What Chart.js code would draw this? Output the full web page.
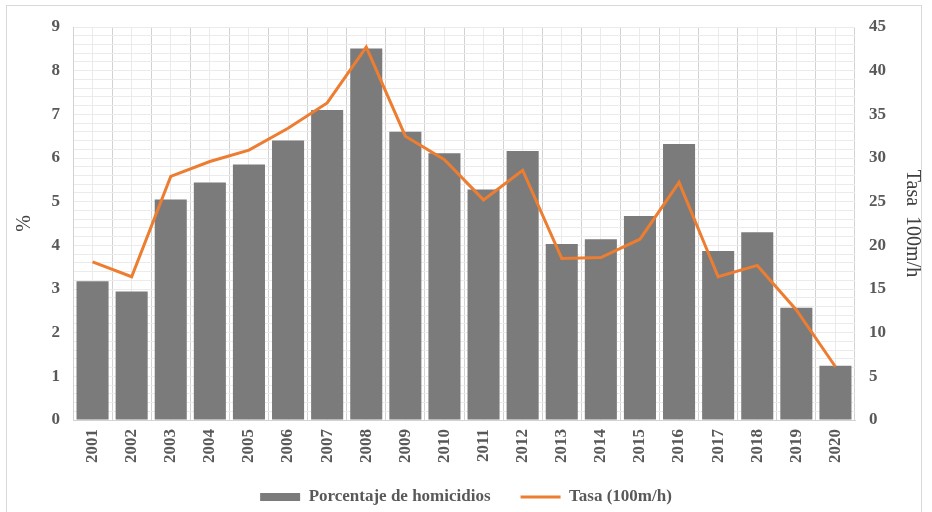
<!DOCTYPE html>
<html>
<head>
<meta charset="utf-8">
<script src="https://cdn.jsdelivr.net/npm/chart.js@4/dist/chart.umd.min.js"></script>
<style>
  html, body { margin: 0; padding: 0; background: #ffffff; }
  #wrap { position: relative; width: 932px; height: 512px; }
  #frame { position: absolute; left: 6px; top: 5px; width: 916px; height: 510px; border: 1px solid #d9d9d9; box-sizing: border-box; pointer-events: none; }
  canvas { position: absolute; left: 0; top: 0; }
</style>
</head>
<body>
<div id="wrap">
  <canvas id="c" width="932" height="512"></canvas>
  <div id="frame"></div>
</div>
<script>
const years = ["2001","2002","2003","2004","2005","2006","2007","2008","2009","2010",
               "2011","2012","2013","2014","2015","2016","2017","2018","2019","2020"];
const porcentaje = [3.18, 2.94, 5.05, 5.44, 5.85, 6.40, 7.10, 8.51, 6.60, 6.11,
                    5.28, 6.16, 4.03, 4.14, 4.67, 6.32, 3.87, 4.30, 2.57, 1.24];
const tasa = [18.1, 16.4, 27.9, 29.6, 30.9, 33.4, 36.3, 42.7, 32.5, 29.8,
              25.2, 28.6, 18.5, 18.6, 20.7, 27.2, 16.4, 17.7, 12.6, 6.1];
const seriesNames = ["Porcentaje de homicidios", "Tasa (100m/h)"];
const leftTitle = "%";
const rightTitle = "Tasa  100m/h";

const serif = "'Liberation Serif', 'Times New Roman', serif";
const tickColor = "#595959";

const legendShift = {
  id: "legendShift",
  afterLayout(chart) {
    if (chart.legend) { chart.legend.top -= 8.5; }
  }
};

new Chart(document.getElementById("c"), {
  data: {
    labels: years,
    datasets: [
      {
        type: "line",
        label: seriesNames[1],
        data: tasa,
        yAxisID: "y1",
        borderColor: "#ed7d31",
        backgroundColor: "#ed7d31",
        borderWidth: 3,
        pointRadius: 0,
        pointStyle: "line",
        tension: 0,
        order: 0
      },
      {
        type: "bar",
        label: seriesNames[0],
        data: porcentaje,
        yAxisID: "y",
        backgroundColor: "#7b7b7b",
        borderWidth: 0,
        pointStyle: "rect",
        categoryPercentage: 1.0,
        barPercentage: 0.82,
        order: 1
      }
    ]
  },
  plugins: [legendShift],
  options: {
    responsive: false,
    animation: false,
    devicePixelRatio: 1,
    layout: { padding: { top: 27, left: 0, right: 0, bottom: 0 } },
    plugins: {
      tooltip: { enabled: false },
      legend: {
        position: "bottom",
        maxHeight: 45,
        reverse: true,
        labels: {
          usePointStyle: true,
          pointStyleWidth: 40,
          boxHeight: 8,
          padding: 30,
          color: tickColor,
          font: { family: serif, size: 17, weight: "bold" }
        }
      }
    },
    scales: {
      x: {
        type: "category",
        position: "bottom",
        offset: true,
        grid: { offset: true, color: "#d2d2d2", drawTicks: false },
        border: { display: true, color: "#d2d2d2" },
        ticks: {
          autoSkip: false, minRotation: 90, maxRotation: 90, padding: 9,
          color: tickColor, font: { family: serif, size: 17, weight: "bold" }
        },
        afterFit: (s) => { s.height = 47; }
      },
      xMinor: {
        type: "category",
        position: "bottom",
        offset: true,
        grid: { offset: false, color: "#ebebeb", drawTicks: false, z: -1 },
        border: { display: false },
        ticks: { display: false },
        afterFit: (s) => { s.height = 0; }
      },
      y: {
        type: "linear",
        position: "left",
        min: 0, max: 9,
        ticks: {
          stepSize: 1, padding: 13, color: tickColor,
          font: { family: serif, size: 17, weight: "bold" }
        },
        grid: { color: "#d2d2d2", drawTicks: false },
        border: { display: true, color: "#d2d2d2" },
        title: {
          display: true, text: leftTitle, color: "#404040",
          font: { family: serif, size: 20 }, padding: { top: 13, bottom: 0 }
        },
        afterFit: (s) => { s.width = 73; }
      },
      yMinor: {
        type: "linear",
        position: "left",
        min: 0, max: 9,
        ticks: { display: false, stepSize: 0.2 },
        grid: { color: "#ebebeb", drawTicks: false, z: -1 },
        border: { display: false },
        afterFit: (s) => { s.width = 0; }
      },
      y1: {
        type: "linear",
        position: "right",
        min: 0, max: 45,
        ticks: {
          stepSize: 5, padding: 14, color: tickColor,
          font: { family: serif, size: 17, weight: "bold" }
        },
        grid: { drawOnChartArea: false, drawTicks: false },
        border: { display: false },
        title: {
          display: true, text: rightTitle, color: "#404040",
          font: { family: serif, size: 20 }, padding: { top: 8, bottom: 0 }
        },
        afterFit: (s) => { s.width = 77; }
      }
    }
  }
});
</script>
</body>
</html>
